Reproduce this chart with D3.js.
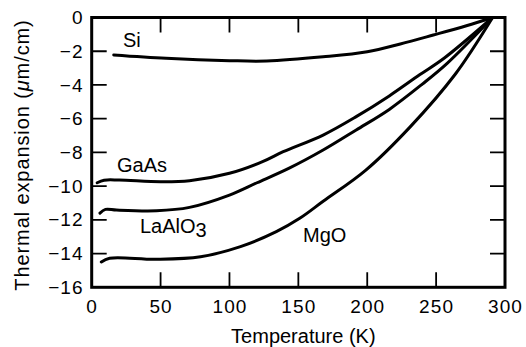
<!DOCTYPE html>
<html>
<head>
<meta charset="utf-8">
<script src="https://cdn.jsdelivr.net/npm/d3@7"></script>
<style>
  body { margin: 0; background: #fff; }
  svg { font-family: "Liberation Sans", Arial, Helvetica, sans-serif; }
</style>
</head>
<body>
<svg id="chart" width="526" height="347"></svg>
<script>
// Temperature (K) / thermal expansion (um/cm)
const siT    = [16, 54, 100, 127, 168, 200, 224, 248, 272, 291];
const siV    = [-2.22, -2.42, -2.56, -2.58, -2.33, -2.03, -1.57, -1.04, -0.49, 0];

const gaasT  = [4, 9, 20, 50, 71, 100, 124, 139, 168, 192, 216, 238, 256, 291];
const gaasV  = [-9.8, -9.65, -9.64, -9.74, -9.68, -9.24, -8.55, -7.96, -6.97, -5.88, -4.65, -3.4, -2.4, 0];

const laT    = [6, 10, 18, 47, 71, 100, 120, 143, 168, 192, 216, 240, 258, 291];
const laV    = [-11.6, -11.38, -11.42, -11.46, -11.26, -10.53, -9.8, -8.95, -7.86, -6.67, -5.45, -3.95, -2.72, 0];

const mgoT   = [7, 13, 47, 79, 108, 134, 151, 168, 199, 231, 264, 291];
const mgoV   = [-14.5, -14.28, -14.34, -14.19, -13.59, -12.7, -11.91, -10.9, -9.05, -6.5, -3.35, 0];

const xTicks = [0, 50, 100, 150, 200, 250, 300];
const yTicks = [0, -2, -4, -6, -8, -10, -12, -14, -16];
const xInner = [50, 100, 150, 200, 250];
const yInner = [-2, -4, -6, -8, -10, -12, -14];

const svg = d3.select("#chart");
const plotL = 91.7, plotR = 505, plotT = 17.5, plotB = 287.3;
const tickLen = 15;

const x = d3.scaleLinear().domain([0, 300]).range([plotL, plotR]);
const y = d3.scaleLinear().domain([-16, 0]).range([plotB, plotT]);

// tick labels
function styleAxis(g) {
  g.select(".domain").remove();
  g.selectAll(".tick line").remove();
  g.selectAll(".tick text")
    .attr("fill", "#000")
    .attr("font-size", 19)
    .attr("letter-spacing", 1.1);
}

svg.append("g")
  .attr("transform", `translate(0,${plotB})`)
  .call(d3.axisBottom(x).tickValues(xTicks).tickSize(0).tickPadding(12))
  .call(styleAxis);

svg.append("g")
  .attr("transform", `translate(${plotL},0)`)
  .call(d3.axisLeft(y).tickValues(yTicks).tickSize(0).tickPadding(8))
  .call(styleAxis);

// frame
svg.append("rect")
  .attr("x", plotL).attr("y", plotT)
  .attr("width", plotR - plotL).attr("height", plotB - plotT)
  .attr("fill", "none").attr("stroke", "#000").attr("stroke-width", 3);

// inward tick marks on all four sides, built with d3.path
const p = d3.path();
xInner.forEach(d => {
  p.moveTo(x(d), plotB); p.lineTo(x(d), plotB - tickLen);
  p.moveTo(x(d), plotT); p.lineTo(x(d), plotT + tickLen);
});
yInner.forEach(d => {
  p.moveTo(plotL, y(d)); p.lineTo(plotL + tickLen, y(d));
  p.moveTo(plotR, y(d)); p.lineTo(plotR - tickLen, y(d));
});
svg.append("path")
  .attr("d", p.toString())
  .attr("fill", "none")
  .attr("stroke", "#000")
  .attr("stroke-width", 1.8);

// curves
const line = d3.line()
  .x(d => x(d[0]))
  .y(d => y(d[1]))
  .curve(d3.curveCatmullRom.alpha(0.5));

const series = [
  [siT, siV], [gaasT, gaasV], [laT, laV], [mgoT, mgoV]
];
series.forEach(([ts, vs]) => {
  svg.append("path")
    .datum(ts.map((t, i) => [t, vs[i]]))
    .attr("fill", "none")
    .attr("stroke", "#000")
    .attr("stroke-width", 3)
    .attr("stroke-linecap", "round")
    .attr("d", line);
});

// curve labels
const lbl = (px, py) => svg.append("text")
  .attr("x", px).attr("y", py)
  .attr("font-size", 20).attr("fill", "#000");

lbl(123, 46.5).text("Si");
lbl(117, 171.5).text("GaAs");
const la = lbl(140, 233).text("LaAlO");
la.append("tspan").attr("dy", 4).text("3");
lbl(303, 241.5).text("MgO");

// axis titles
svg.append("text")
  .attr("x", (plotL + plotR) / 2 + 5).attr("y", 343)
  .attr("text-anchor", "middle")
  .attr("font-size", 20)
  .text("Temperature (K)");

const yt = svg.append("text")
  .attr("transform", "translate(28.5,155) rotate(-90)")
  .attr("text-anchor", "middle")
  .attr("font-size", 20)
  .attr("letter-spacing", 0.9);
yt.append("tspan").text("Thermal expansion (");
yt.append("tspan").attr("font-style", "italic").text("\u03bc");
yt.append("tspan").text("m/cm)");
</script>
</body>
</html>
